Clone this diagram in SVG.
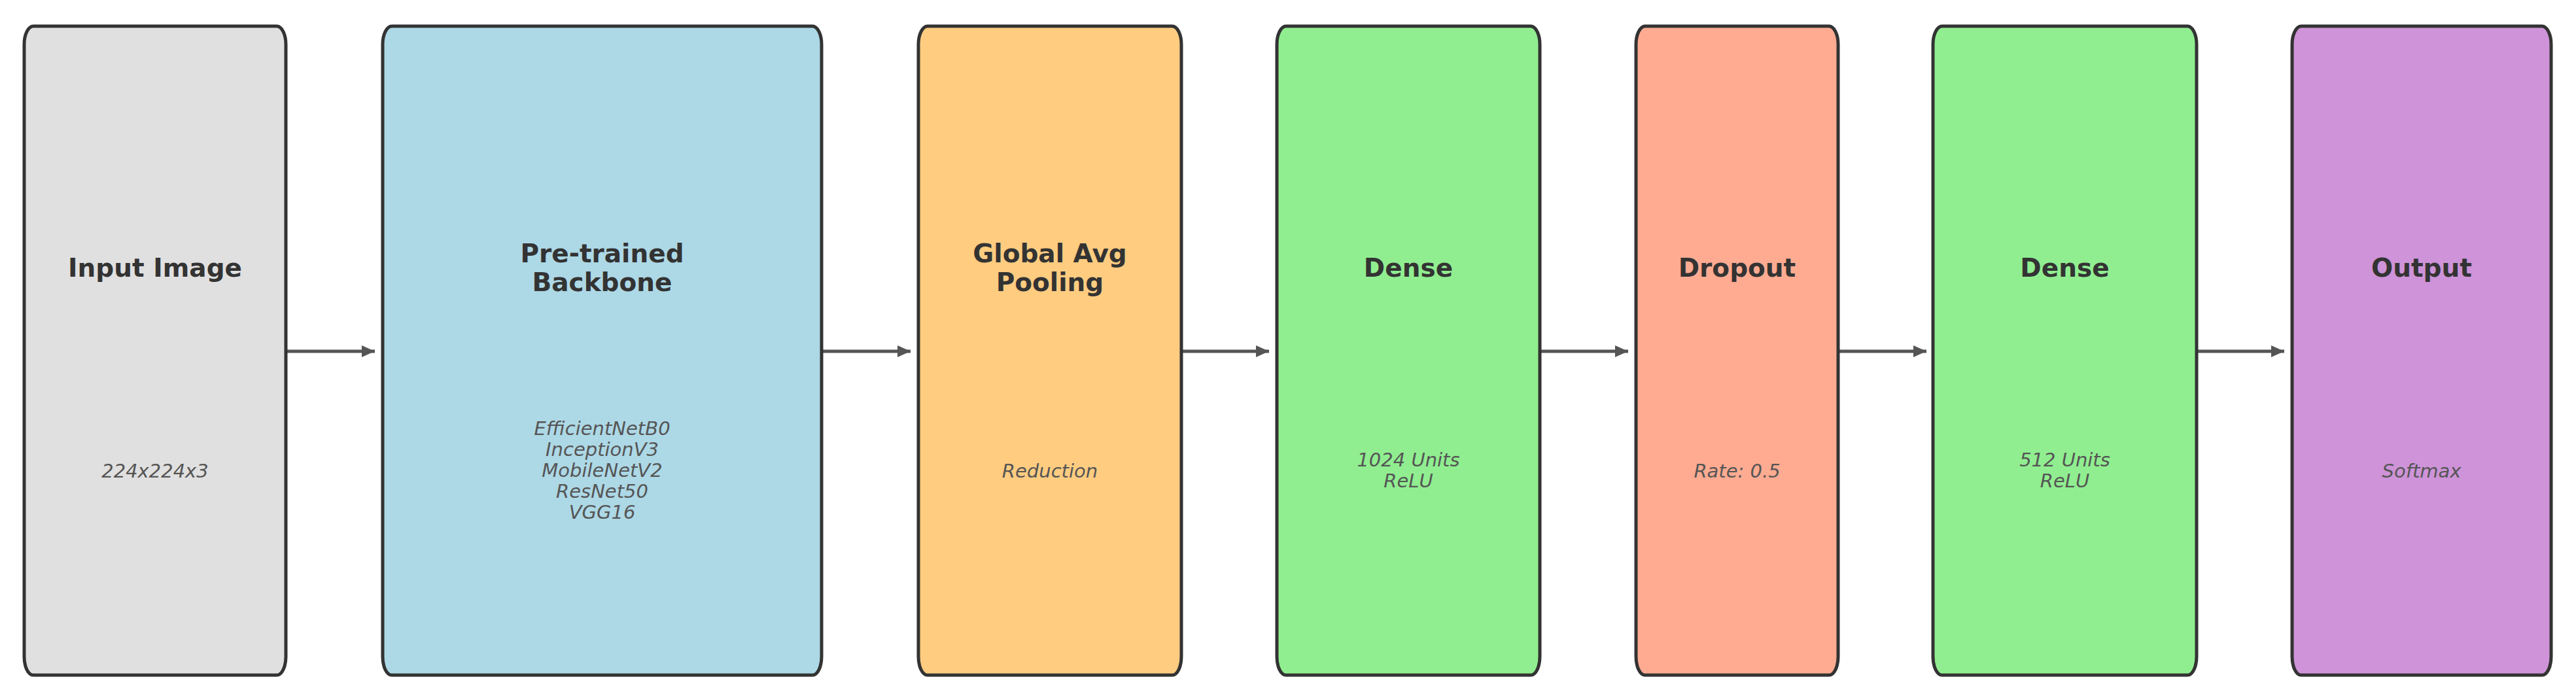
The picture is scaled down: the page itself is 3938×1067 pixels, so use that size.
<svg xmlns="http://www.w3.org/2000/svg" width="3938" height="1067" viewBox="0 0 3938 1067">
<defs>
<style>
.box{stroke:#333333;stroke-width:5}
.t{font-family:"DejaVu Sans",sans-serif;font-weight:bold;font-size:39px;fill:#333333;text-anchor:middle}
.s{font-family:"DejaVu Sans",sans-serif;font-style:italic;font-size:29px;fill:#555555;text-anchor:middle}
.c{stroke:#555555;stroke-width:5;fill:none}
</style>
<marker id="ah" viewBox="0 0 20 18" refX="20" refY="9" markerWidth="20" markerHeight="18" markerUnits="userSpaceOnUse" orient="auto">
<path d="M0,0 L20,9 L0,18 Z" fill="#555555"/>
</marker>
</defs>
<rect width="3938" height="1067" fill="#ffffff"/>
<g id="connectors">
<line class="c" x1="437" y1="537" x2="573" y2="537" marker-end="url(#ah)"/>
<line class="c" x1="1256" y1="537" x2="1392" y2="537" marker-end="url(#ah)"/>
<line class="c" x1="1806" y1="537" x2="1940" y2="537" marker-end="url(#ah)"/>
<line class="c" x1="2354" y1="537" x2="2489" y2="537" marker-end="url(#ah)"/>
<line class="c" x1="2810" y1="537" x2="2945" y2="537" marker-end="url(#ah)"/>
<line class="c" x1="3358" y1="537" x2="3492" y2="537" marker-end="url(#ah)"/>
</g>
<g id="input">
<rect class="box" x="37" y="40" width="400" height="992" rx="14" ry="28" fill="#e0e0e0"/>
<text class="t" x="237" y="423">Input Image</text>
<text class="s" x="237" y="730">224x224x3</text>
</g>
<g id="backbone">
<rect class="box" x="585" y="40" width="671" height="992" rx="14" ry="28" fill="#add8e6"/>
<text class="t" x="920.5" y="401">Pre-trained</text>
<text class="t" x="920.5" y="445">Backbone</text>
<text class="s" x="920.5" y="665">EfficientNetB0</text>
<text class="s" x="920.5" y="697">InceptionV3</text>
<text class="s" x="920.5" y="729">MobileNetV2</text>
<text class="s" x="920.5" y="761">ResNet50</text>
<text class="s" x="920.5" y="793">VGG16</text>
</g>
<g id="gap">
<rect class="box" x="1404" y="40" width="402" height="992" rx="14" ry="28" fill="#ffcc80"/>
<text class="t" x="1605" y="401">Global Avg</text>
<text class="t" x="1605" y="445">Pooling</text>
<text class="s" x="1605" y="730">Reduction</text>
</g>
<g id="dense1">
<rect class="box" x="1952" y="40" width="402" height="992" rx="14" ry="28" fill="#90ee90"/>
<text class="t" x="2153" y="423">Dense</text>
<text class="s" x="2153" y="713">1024 Units</text>
<text class="s" x="2153" y="745">ReLU</text>
</g>
<g id="dropout">
<rect class="box" x="2501" y="40" width="309" height="992" rx="14" ry="28" fill="#ffab91"/>
<text class="t" x="2655.5" y="423">Dropout</text>
<text class="s" x="2655.5" y="730">Rate: 0.5</text>
</g>
<g id="dense2">
<rect class="box" x="2955" y="40" width="403" height="992" rx="14" ry="28" fill="#90ee90"/>
<text class="t" x="3156.5" y="423">Dense</text>
<text class="s" x="3156.5" y="713">512 Units</text>
<text class="s" x="3156.5" y="745">ReLU</text>
</g>
<g id="output">
<rect class="box" x="3504" y="40" width="396" height="992" rx="14" ry="28" fill="#ce93d8"/>
<text class="t" x="3702" y="423">Output</text>
<text class="s" x="3702" y="730">Softmax</text>
</g>
</svg>
